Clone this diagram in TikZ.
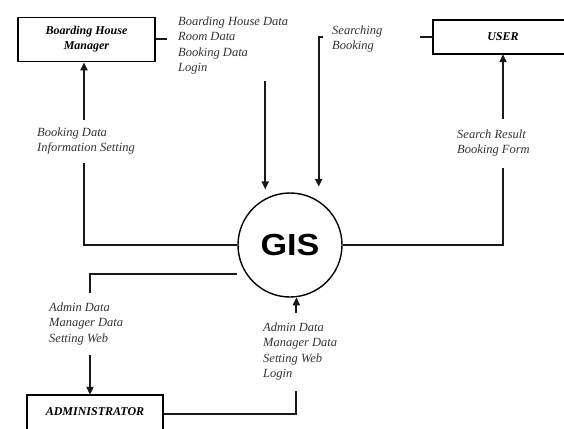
\documentclass[tikz,border=0pt]{standalone}
\usepackage{fontspec}
\usepackage{graphicx}
\setmainfont{Liberation Serif}
\newfontfamily\gisfont{Liberation Sans}
\usetikzlibrary{arrows.meta}
\tikzset{
  flow/.style={line width=2pt, black!90},
  arr/.style={flow, -{Triangle[length=8pt,width=7pt]}},
  lbl/.style={font=\fontsize{12.5}{15.5}\selectfont\itshape, align=left, fill=white,
              anchor=north west, text=black!80, inner xsep=4pt},
  entity/.style={font=\fontsize{12}{15}\selectfont\bfseries\itshape, align=center, inner sep=0pt},
  boxline/.style={line width=1.6pt, black}
}
\begin{document}
\begin{tikzpicture}[x=1pt,y=-1pt]
\useasboundingbox (0,0) rectangle (564,428);
% entities
\node[entity, draw, boxline, minimum width=137pt, minimum height=44pt] (bhm) at (86.5,39.5) {Boarding House\\Manager};
\node[entity, minimum width=140pt, minimum height=34pt] (user) at (503,37) {USER};
\draw[boxline] (564,20) -| (433,54) -- (564,54);
\node[entity, minimum width=136pt, minimum height=33pt] (admin) at (95,411.5) {ADMINISTRATOR};
\draw[boxline] (27,430) |- (163,395) -- (163,430);
% process
\node[circle, draw, line width=1.4pt, minimum size=104pt, inner sep=0pt,
      font=\gisfont\bfseries\fontsize{30.5}{30}\selectfont] (gis) at (290,245) {\scalebox{1.12}[1]{GIS}};
% connectors
\draw[arr, shorten >=9pt] (bhm.east) -| (gis.118.7);
\draw[arr, shorten >=14pt] (user.west) -| (gis.57.4);
\draw[arr] (gis.east) -| (user.south);
\draw[arr] (gis.west) -| ([xshift=-2.5pt]bhm.south);
\draw[arr, shorten <=9pt] (gis.213.9) -| ([xshift=-5pt]admin.north);
\draw[arr] ([yshift=-2.5pt]admin.east) -| (gis.277.7);
% labels
\node[lbl, inner xsep=11pt, inner ysep=6pt] (la) at (167,10.5) {Boarding House Data\\Room Data\\Booking Data\\Login};
\node[lbl, inner xsep=9pt, inner ysep=4pt, text width=79pt] (lb) at (323,21.5) {Searching\\Booking};
\node[lbl, inner ysep=8pt] (lc) at (33,119.5) {Booking Data\\Information Setting};
\node[lbl, inner ysep=11pt] (ld) at (453,118.5) {Search Result\\Booking Form};
\node[lbl, inner ysep=10pt] (le) at (45,292.5) {Admin Data\\Manager Data\\Setting Web};
\node[lbl, inner ysep=10pt] (lf) at (259,312.5) {Admin Data\\Manager Data\\Setting Web\\Login};
\end{tikzpicture}
\end{document}
